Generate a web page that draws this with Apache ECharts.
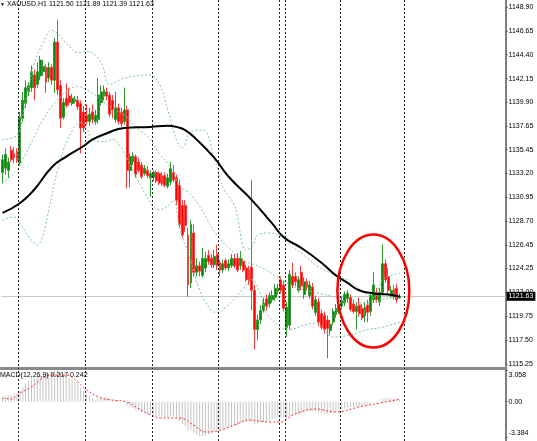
<!DOCTYPE html>
<html><head><meta charset="utf-8">
<script src="https://cdn.jsdelivr.net/npm/echarts@6/dist/echarts.min.js"></script>
<style>html,body{margin:0;padding:0;background:#fff;}#c{width:537px;height:441px;}</style>
</head><body><div id="c"></div>
<script>
// ---- price bars (H1) ----
const opens = [1133.3,1133.7,1133.5,1135.4,1135.1,1135.3,1134.2,1138.4,1139.8,1140.9,
1141.3,1142.5,1141.6,1142.4,1142.8,1143.2,1142.2,1143.2,1142.0,1145.6,
1141.5,1138.5,1140.3,1140.5,1139.8,1140.0,1140.1,1139.8,1139.0,1138.7,
1138.1,1139.0,1138.1,1138.3,1139.9,1140.5,1140.9,1140.6,1140.1,1138.3,
1139.4,1139.0,1138.1,1139.2,1133.5,1134.3,1134.8,1134.3,1134.0,1133.2,
1133.5,1132.8,1132.8,1133.3,1133.2,1133.0,1133.0,1132.0,1132.4,1133.3,
1132.8,1132.1,1130.2,1130.2,1127.4,1122.9,1127.6,1123.9,1124.5,1123.6,
1124.3,1125.5,1125.2,1124.6,1125.6,1124.8,1124.1,1125.0,1124.3,1124.5,
1125.2,1125.2,1124.5,1124.9,1124.3,1124.1,1124.4,1122.2,1118.5,1119.4,
1120.3,1121.4,1120.9,1121.3,1121.5,1122.1,1123.2,1122.7,1118.7,1118.9,
1123.5,1123.5,1122.2,1123.9,1121.8,1123.0,1121.7,1122.5,1120.1,1121.1,
1120.0,1119.8,1119.4,1118.4,1119.2,1119.9,1120.2,1120.7,1121.0,1121.4,
1121.5,1120.9,1120.2,1120.8,1120.5,1119.8,1120.8,1120.2,1121.3,1122.0,
1121.1,1122.0,1124.7,1123.5,1121.7,1122.3,1122.4,1121.50];
const closes = [1134.5,1135.0,1134.3,1134.5,1134.7,1134.4,1138.5,1140.1,1141.3,1141.5,
1142.8,1141.3,1142.8,1143.9,1143.3,1141.8,1143.2,1142.0,1145.6,1141.1,
1138.4,1139.9,1139.6,1139.9,1140.3,1140.2,1139.5,1137.5,1137.5,1138.1,
1138.8,1138.3,1138.7,1140.6,1140.9,1141.1,1140.5,1138.8,1139.2,1139.4,
1138.1,1137.9,1139.2,1133.5,1134.8,1134.9,1133.1,1133.5,1132.9,1133.7,
1133.0,1133.2,1133.3,1132.5,1132.3,1132.2,1132.1,1132.8,1133.7,1132.6,
1130.7,1128.4,1127.4,1128.3,1122.7,1128.4,1123.9,1124.5,1124.0,1125.2,
1125.2,1124.9,1124.6,1125.4,1124.5,1124.1,1124.7,1124.3,1124.7,1125.2,
1124.5,1124.1,1125.2,1124.1,1123.2,1123.0,1122.2,1118.5,1119.4,1120.3,
1121.0,1120.7,1121.7,1121.7,1122.4,1122.4,1122.2,1120.5,1120.6,1123.7,
1122.7,1123.0,1123.2,1122.6,1123.0,1122.5,1122.7,1120.7,1121.3,1119.2,
1118.7,1118.5,1118.6,1119.0,1120.2,1120.5,1120.8,1121.2,1121.8,1121.9,
1120.4,1120.2,1120.7,1120.0,1119.6,1120.6,1120.1,1121.7,1122.7,1121.3,
1122.0,1124.7,1123.2,1122.2,1122.2,1121.6,1121.3,1121.63];
const lows = [1132.3,1133.1,1132.8,1134.3,1134.2,1134.2,1134.0,1138.1,1139.4,1140.5,
1140.9,1140.1,1141.3,1142.0,1142.4,1140.8,1141.8,1141.6,1140.8,1140.6,
1137.5,1138.3,1139.4,1139.6,1139.6,1139.8,1139.2,1135.1,1137.1,1137.8,
1137.7,1137.9,1137.8,1137.9,1139.6,1140.1,1140.1,1138.5,1138.4,1138.0,
1137.8,1137.6,1137.8,1131.8,1131.9,1134.0,1132.8,1133.3,1132.7,1133.0,
1132.8,1131.0,1132.5,1132.3,1132.1,1132.0,1131.9,1131.8,1132.1,1132.4,
1130.2,1128.1,1127.1,1127.7,1121.6,1122.4,1123.5,1123.5,1123.5,1123.4,
1123.9,1124.6,1124.3,1124.3,1124.1,1123.5,1123.8,1124.1,1124.0,1124.3,
1124.3,1123.9,1124.1,1123.9,1123.0,1122.7,1120.3,1116.6,1117.5,1119.0,
1120.1,1120.3,1120.6,1121.0,1121.2,1121.8,1121.9,1120.2,1117.8,1118.5,
1122.4,1122.6,1122.0,1122.2,1121.4,1122.1,1121.4,1120.4,1119.8,1118.8,
1118.5,1118.1,1115.8,1118.0,1118.9,1119.6,1120.0,1120.4,1120.7,1121.1,
1120.2,1120.0,1118.5,1119.7,1119.4,1119.2,1119.2,1119.8,1121.0,1121.0,
1120.7,1121.7,1122.9,1121.9,1121.5,1121.3,1121.0,1121.39];
const highs = [1135.0,1135.6,1134.7,1135.8,1135.7,1135.6,1139.0,1140.9,1142.0,1141.8,
1143.4,1143.0,1143.7,1144.3,1143.9,1143.5,1143.7,1143.5,1146.0,1147.7,
1142.0,1140.3,1141.7,1141.3,1140.7,1140.5,1140.5,1140.1,1139.6,1139.7,
1139.4,1139.7,1139.2,1142.2,1141.5,1141.5,1141.3,1140.9,1140.6,1140.9,
1139.8,1139.4,1141.3,1139.6,1135.1,1135.2,1135.0,1134.7,1134.3,1134.0,
1133.9,1133.5,1133.5,1133.5,1133.4,1133.3,1133.3,1133.2,1134.3,1134.0,
1133.1,1132.6,1130.7,1130.7,1128.1,1128.8,1128.4,1125.2,1124.9,1126.2,
1125.8,1126.0,1125.6,1126.0,1126.5,1125.1,1125.1,1125.2,1125.1,1125.6,
1125.6,1125.7,1125.9,1125.2,1124.6,1124.5,1132.6,1122.7,1119.9,1120.8,
1121.5,1121.8,1122.0,1122.2,1122.8,1122.8,1123.5,1123.1,1121.1,1124.1,
1124.8,1123.9,1123.5,1124.5,1123.4,1123.3,1123.1,1122.9,1121.7,1121.5,
1120.4,1120.2,1119.8,1119.4,1120.5,1120.9,1121.2,1121.6,1122.1,1122.2,
1121.8,1121.3,1121.1,1121.5,1120.9,1121.1,1121.3,1122.0,1123.9,1122.4,
1122.4,1126.5,1125.1,1124.3,1122.6,1122.7,1122.8,1121.89];

// ---- indicators: [bar index, value] ----
const maPoints = [[0,1129.5],[6,1130.4],[11,1131.7],[17,1133.8],[22,1134.8],[28,1135.8],[31,1136.4],[36,1137.0],[42,1137.5],[51,1137.6],[57,1137.7],[60,1137.6],[63,1137.3],[67,1136.4],[73,1134.7],[78,1132.9],[86,1130.7],[93,1128.5],[97,1127.2],[103,1126.2],[110,1124.8],[115,1123.6],[119,1122.9],[123,1122.2],[128,1121.9],[133,1121.8],[137,1121.6]];
const bbUpper = [[0,1136.4],[5,1136.8],[7,1138.7],[11,1143.6],[14,1145.5],[17,1146.7],[22,1145.5],[26,1144.6],[29,1144.7],[34,1143.7],[37,1141.6],[42,1142.2],[51,1142.5],[54,1141.7],[57,1139.2],[60,1136.4],[62,1135.6],[65,1137.2],[69,1137.3],[73,1134.7],[76,1131.9],[80,1130.2],[84,1126.0],[86,1126.3],[88,1127.4],[92,1127.6],[97,1127.1],[100,1126.3],[104,1125.5],[109,1124.4],[115,1123.6],[120,1123.0],[126,1121.7],[128,1121.5],[131,1123.2],[134,1123.6],[137,1123.8]];
const bbMiddle = [[0,1132.3],[5,1133.5],[7,1134.5],[11,1136.7],[14,1138.3],[17,1139.5],[22,1140.9],[26,1141.4],[29,1141.1],[33,1140.4],[35,1139.9],[39,1139.2],[43,1138.5],[46,1137.6],[51,1136.4],[54,1135.1],[58,1133.8],[61,1132.1],[65,1131.2],[68,1130.1],[74,1127.4],[80,1125.7],[84,1124.9],[89,1124.4],[95,1123.4],[100,1122.6],[106,1122.1],[114,1121.6],[120,1121.0],[126,1121.0],[132,1121.4],[137,1121.6]];
const bbLower = [[0,1128.8],[4,1129.1],[6,1128.5],[10,1126.9],[12,1126.5],[14,1127.4],[16,1129.8],[19,1133.5],[23,1136.7],[27,1138.0],[29,1137.5],[31,1136.4],[35,1136.2],[38,1136.4],[41,1135.6],[45,1133.5],[48,1131.9],[52,1130.1],[54,1129.8],[57,1130.1],[59,1130.7],[61,1128.2],[65,1124.9],[68,1122.2],[72,1120.3],[74,1120.1],[77,1120.6],[82,1122.0],[86,1123.2],[89,1121.8],[91,1120.1],[96,1118.7],[99,1118.5],[104,1118.9],[108,1119.1],[114,1117.8],[120,1118.0],[126,1118.5],[131,1118.7],[137,1119.2]];

// ---- MACD(12,26,9) ----
const macdMain = [0.45,0.55,0.6,0.7,0.8,0.75,1.1,1.4,1.8,2.0,
2.25,2.3,2.45,2.6,2.65,2.7,2.8,2.8,3.0,3.058,
2.8,2.6,2.45,2.3,2.15,1.95,1.75,1.35,1.0,0.7,
0.5,0.35,0.2,0.3,0.4,0.45,0.45,0.3,0.2,0.2,
0.1,0.0,0.05,-0.4,-0.55,-0.6,-0.75,-0.85,-1.0,-1.05,
-1.15,-1.2,-1.3,-1.35,-1.4,-1.45,-1.5,-1.5,-1.4,-1.4,
-1.55,-1.85,-2.15,-2.35,-2.8,-2.7,-3.0,-3.2,-3.384,-3.3,
-3.25,-3.15,-3.05,-2.9,-2.8,-2.7,-2.65,-2.6,-2.5,-2.45,
-2.35,-2.25,-2.1,-2.0,-1.95,-1.9,-1.95,-2.2,-2.1,-2.0,
-1.95,-1.9,-1.85,-1.75,-1.65,-1.55,-1.5,-1.55,-1.6,-1.35,
-1.3,-1.25,-1.2,-1.15,-1.05,-0.95,-0.9,-0.95,-0.95,-1.05,
-1.1,-1.15,-1.15,-1.1,-1.0,-0.95,-0.85,-0.75,-0.65,-0.55,
-0.5,-0.5,-0.45,-0.45,-0.45,-0.35,-0.3,-0.2,-0.05,-0.05,
0.0,0.25,0.35,0.35,0.3,0.3,0.25,0.217];
const macdSignal = [[0,0.36],[3,0.26],[6,0.84],[10,1.42],[14,2.29],[17,2.57],[22,2.57],[26,1.9],[29,1.13],[34,0.36],[38,0.16],[43,-0.03],[46,-0.51],[51,-1.28],[55,-1.57],[61,-1.57],[66,-2.25],[70,-2.92],[74,-2.83],[80,-2.25],[85,-1.76],[92,-1.96],[96,-1.96],[100,-1.28],[108,-0.7],[115,-0.99],[123,-0.51],[130,-0.13],[137,0.242]];

// ---- axis ticks, separators, annotation ----
const priceTicks = [1148.90,1146.65,1144.40,1142.15,1139.90,1137.65,1135.45,1133.20,1130.95,1128.70,1126.45,1124.25,1122.00,1119.75,1117.50,1115.25];
const macdTicks = [3.058, 0, -3.384];
const daySeparators = [5.5, 28.5, 51.5, 74.5, 95.5, 97.5, 116.5, 138.5];
const symbol = 'XAUUSD,H1';
const ellipseBars = [115.5, 140.3];
const ellipsePrices = [1116.8, 1127.45];

const SLOTS = 174;
const n = opens.length;
const last = n - 1;
const cats = Array.from({length: SLOTS}, (_, i) => String(i));
const candles = opens.map((o, i) => [o, closes[i], lows[i], highs[i]]);
const hist = macdMain.map((v, i) => [i, v]);
const FONT = 'Liberation Sans';

const sepLine = {
  silent: true, symbol: ['none', 'none'], label: {show: false},
  lineStyle: {color: '#222', type: [2, 2], width: 1},
  data: daySeparators.map(v => ({xAxis: v}))
};
const bbStyle = {color: '#7cc99a', width: 1, type: [2, 2]};

const chart = echarts.init(document.getElementById('c'), null, {renderer: 'canvas'});
const ohlc = [opens[last], highs[last], lows[last], closes[last]].map(v => v.toFixed(2)).join(' ');
chart.setOption({
  animation: false,
  backgroundColor: '#fff',
  title: [
    {text: '{t|▼} ' + symbol + ' ' + ohlc, left: 0, top: 1, padding: 0,
     textStyle: {fontSize: 7, fontWeight: 'normal', fontFamily: FONT, color: '#000', rich: {t: {fontSize: 5, color: '#000'}}}},
    {text: 'MACD(12,26,9) ' + macdMain[last].toFixed(3) + ' ' + macdSignal[macdSignal.length - 1][1].toFixed(3), left: 0, top: 372, padding: 0,
     textStyle: {fontSize: 7, fontWeight: 'normal', fontFamily: FONT, color: '#000'}}
  ],
  grid: [
    {left: 1, top: 0, width: 504.6, height: 366},
    {left: 1, top: 368, width: 504.6, height: 73}
  ],
  xAxis: [
    {type: 'category', gridIndex: 0, data: cats, show: false, boundaryGap: true},
    {type: 'value', gridIndex: 0, min: -0.5, max: SLOTS - 0.5, show: false},
    {type: 'value', gridIndex: 1, min: -0.5, max: SLOTS - 0.5, position: 'top',
     axisLine: {show: true, onZero: false, lineStyle: {color: '#8a8a8a', width: 3}},
     axisTick: {show: false}, axisLabel: {show: false}, splitLine: {show: false}}
  ],
  yAxis: [
    {type: 'value', gridIndex: 0, position: 'right', min: 1115.06, max: 1149.56,
     axisLine: {show: true, onZero: false, lineStyle: {color: '#808080', width: 2}},
     axisTick: {show: true, length: 2, customValues: priceTicks, lineStyle: {color: '#555'}},
     axisLabel: {customValues: priceTicks, formatter: v => v.toFixed(2), fontSize: 7, fontFamily: FONT, color: '#000', margin: 3},
     splitLine: {show: false}},
    {type: 'value', gridIndex: 1, position: 'right', min: -3.789, max: 3.251,
     axisLine: {show: true, onZero: false, lineStyle: {color: '#808080', width: 2}},
     axisTick: {show: true, length: 2, customValues: macdTicks, lineStyle: {color: '#555'}},
     axisLabel: {customValues: macdTicks, fontSize: 7, fontFamily: FONT, color: '#000', margin: 3,
       formatter: v => v === 0 ? '{m|0.00}' : (v > 0 ? '{a|' + v.toFixed(3) + '}' : '{b|' + v.toFixed(3) + '}'),
       rich: {a: {fontSize: 7, fontFamily: FONT, padding: [10, 0, 0, 0]}, b: {fontSize: 7, fontFamily: FONT, padding: [0, 0, 7, 0]}, m: {fontSize: 7, fontFamily: FONT}}},
     splitLine: {show: false}}
  ],
  series: [
    {type: 'candlestick', xAxisIndex: 0, yAxisIndex: 0, data: candles, barWidth: 2.4, silent: true, z: 2,
     itemStyle: {color: '#078a07', color0: '#ff0000', borderColor: '#2f9a2f', borderColor0: '#ff3a3a', borderWidth: 1},
     markLine: {silent: true, symbol: ['none', 'none'], z: 1,
       lineStyle: {color: '#c8c8c8', type: 'solid', width: 1},
       label: {show: true, position: 'end', distance: 1, formatter: p => p.value.toFixed(2), color: '#fff', backgroundColor: '#000', padding: [1, 2, 1, 2], fontSize: 7, fontFamily: FONT},
       data: [{yAxis: closes[last]}]}},
    {type: 'line', xAxisIndex: 1, yAxisIndex: 0, data: bbUpper, symbol: 'none', smooth: 0.4, lineStyle: bbStyle, silent: true, z: 3},
    {type: 'line', xAxisIndex: 1, yAxisIndex: 0, data: bbMiddle, symbol: 'none', smooth: 0.4, lineStyle: bbStyle, silent: true, z: 3},
    {type: 'line', xAxisIndex: 1, yAxisIndex: 0, data: bbLower, symbol: 'none', smooth: 0.4, lineStyle: bbStyle, silent: true, z: 3},
    {type: 'line', xAxisIndex: 1, yAxisIndex: 0, data: maPoints, symbol: 'none', smooth: 0.5, silent: true, z: 4,
     lineStyle: {color: '#000', width: 2}, markLine: sepLine},
    {type: 'bar', xAxisIndex: 2, yAxisIndex: 1, data: hist, barWidth: 1, silent: true, itemStyle: {color: '#c4c4c4'}},
    {type: 'line', xAxisIndex: 2, yAxisIndex: 1, data: macdSignal, symbol: 'none', smooth: 0.4, silent: true, z: 4,
     lineStyle: {color: '#ff3030', width: 1, type: [2, 2]}, markLine: sepLine}
  ]
});

// red ellipse annotation anchored to data coordinates
const p1 = chart.convertToPixel({xAxisIndex: 1, yAxisIndex: 0}, [ellipseBars[0], ellipsePrices[1]]);
const p2 = chart.convertToPixel({xAxisIndex: 1, yAxisIndex: 0}, [ellipseBars[1], ellipsePrices[0]]);
chart.setOption({graphic: [{type: 'ellipse', silent: true, z: 100,
  shape: {cx: (p1[0] + p2[0]) / 2, cy: (p1[1] + p2[1]) / 2, rx: Math.abs(p2[0] - p1[0]) / 2, ry: Math.abs(p2[1] - p1[1]) / 2},
  style: {fill: 'none', stroke: '#ff0000', lineWidth: 2.5}}]});
</script>
</body></html>
